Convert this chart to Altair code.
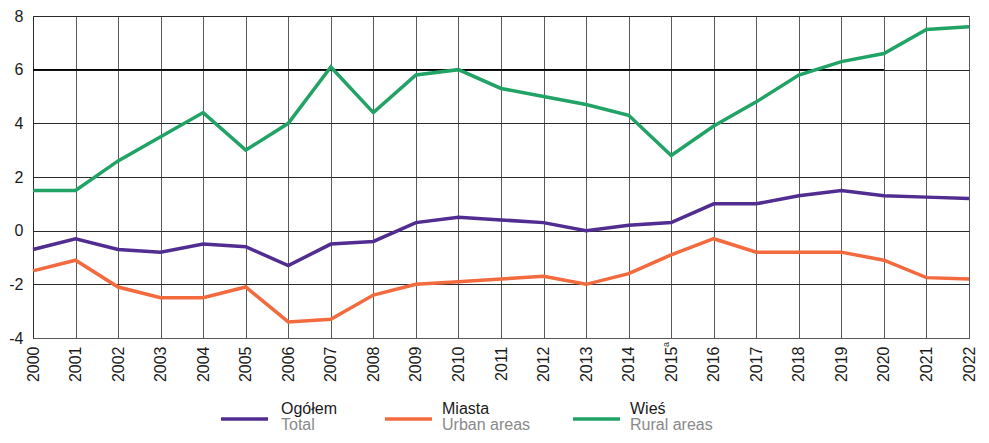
import altair as alt
import pandas as pd

years = list(range(2000, 2023))
total = [-0.7, -0.3, -0.7, -0.8, -0.5, -0.6, -1.3, -0.5, -0.4, 0.3, 0.5, 0.4, 0.3, 0.0, 0.2, 0.3, 1.0, 1.0, 1.3, 1.5, 1.3, 1.25, 1.2]
urban = [-1.5, -1.1, -2.1, -2.5, -2.5, -2.1, -3.4, -3.3, -2.4, -2.0, -1.9, -1.8, -1.7, -2.0, -1.6, -0.9, -0.3, -0.8, -0.8, -0.8, -1.1, -1.75, -1.8]
rural = [1.5, 1.5, 2.6, 3.5, 4.4, 3.0, 4.0, 6.1, 4.4, 5.8, 6.0, 5.3, 5.0, 4.7, 4.3, 2.8, 3.9, 4.8, 5.8, 6.3, 6.6, 7.5, 7.6]
series_pl = ["Ogółem", "Miasta", "Wieś"]
series_en = ["Total", "Urban areas", "Rural areas"]
colors = ["#512d91", "#f26a3d", "#21a366"]
y_ticks = [-4, -2, 0, 2, 4, 6, 8]

rows = []
for name, vals in zip(series_pl, [total, urban, rural]):
    for yr, v in zip(years, vals):
        rows.append({"year": yr, "value": v, "series": name})
df = pd.DataFrame(rows)

W, H = 936, 322
FONT = "Liberation Sans"

x_enc = alt.X(
    "year:Q",
    scale=alt.Scale(domain=[years[0], years[-1]], nice=False, zero=False),
    axis=alt.Axis(values=years, format="d", labelAngle=270, labelAlign="right",
                  labelBaseline="middle", labelPadding=8, tickSize=0, title=None,
                  grid=True, gridColor="#5a5a5a", domainColor="#5a5a5a",
                  labelFontSize=16, labelFont=FONT, labelColor="#1a1a1a"),
)
y_enc = alt.Y(
    "value:Q",
    scale=alt.Scale(domain=[-4, 8], nice=False),
    axis=alt.Axis(values=y_ticks, tickSize=0, labelPadding=10, title=None,
                  labelExpr="toString(datum.value)",
                  grid=True, gridColor="#2a2a2a", domainColor="#2a2a2a",
                  labelFontSize=16, labelFont=FONT, labelColor="#1a1a1a"),
)

lines = alt.Chart(df).mark_line(strokeWidth=3.5).encode(
    x=x_enc,
    y=y_enc,
    color=alt.Color("series:N", scale=alt.Scale(domain=series_pl, range=colors), legend=None),
    order=alt.Order("year:Q"),
)

six_rule = alt.Chart(pd.DataFrame({"k": [0]})).mark_rule(color="#000000", strokeWidth=1.5).encode(
    x=alt.datum(2000), x2=alt.datum(2020), y=alt.datum(6)
)

note = alt.Chart(pd.DataFrame({"t": ["a"]})).mark_text(
    angle=270, align="right", baseline="middle", fontSize=9, font=FONT, color="#333333", dy=-5
).encode(text="t:N", x=alt.datum(2015), y=alt.value(H + 4))

layers = [six_rule, lines, note]

# manual legend below the axis labels
sw_x = [188, 352, 540]
tx_x = [248, 409, 597]
for i in range(3):
    one = pd.DataFrame({"pl": [series_pl[i]], "en": [series_en[i]]})
    layers.append(alt.Chart(one).mark_rule(strokeWidth=3.5, color=colors[i]).encode(
        x=alt.value(sw_x[i]), x2=alt.value(sw_x[i] + 47), y=alt.value(H + 81)))
    layers.append(alt.Chart(one).mark_text(align="left", baseline="alphabetic", fontSize=16,
                                           font=FONT, color="#1a1a1a").encode(
        text="pl:N", x=alt.value(tx_x[i]), y=alt.value(H + 76)))
    layers.append(alt.Chart(one).mark_text(align="left", baseline="alphabetic", fontSize=16,
                                           font=FONT, color="#8a8a8a").encode(
        text="en:N", x=alt.value(tx_x[i]), y=alt.value(H + 92)))

chart = alt.layer(*layers).properties(
    width=W, height=H, padding={"left": 0, "top": 0, "right": 0, "bottom": 0}
).configure_view(stroke=None).configure(background="#ffffff")

chart.save("out.html", embed_options={"renderer": "svg", "actions": False})
